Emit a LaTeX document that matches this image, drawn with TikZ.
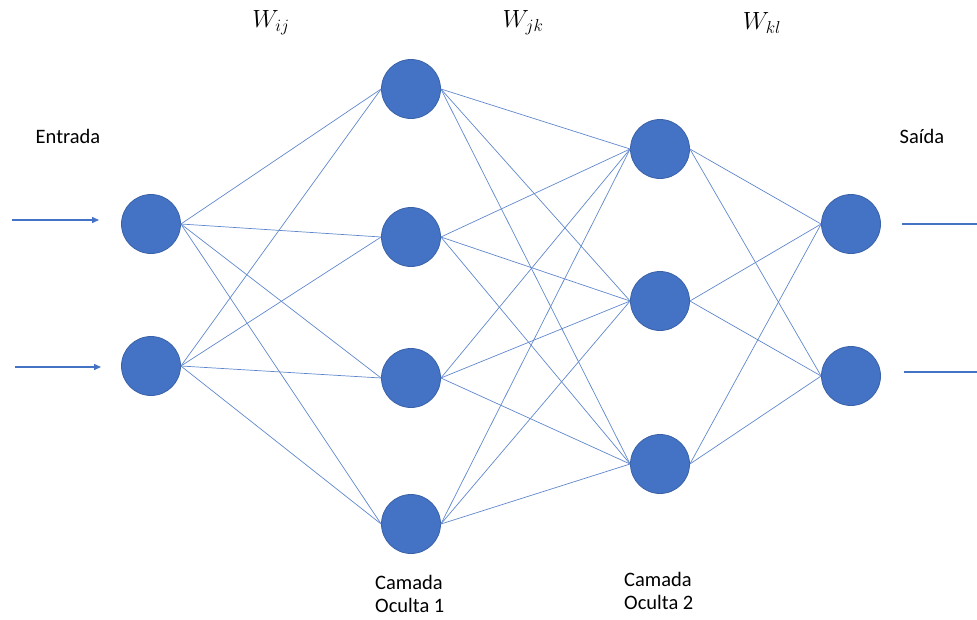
\documentclass[tikz,border=0pt]{standalone}
\usepackage{fontspec}
\setmainfont{Carlito}
\usetikzlibrary{arrows.meta}
\definecolor{nodeblue}{HTML}{4472C4}
\definecolor{nodeborder}{HTML}{3A62A8}
\tikzset{
  neuron/.style={circle, fill=nodeblue, draw=nodeborder, line width=0.8pt, minimum size=59pt, inner sep=0pt},
  link/.style={draw=nodeblue!85, line width=0.7pt},
  inarrow/.style={draw=nodeblue, line width=1.4pt, -{Triangle[length=7pt,width=6pt]}},
  outline/.style={draw=nodeblue, line width=1.4pt},
  lbl/.style={font=\fontsize{20.5}{24}\selectfont, inner sep=0pt},
  wlbl/.style={font=\fontsize{23}{26}\selectfont, inner sep=0pt},
  layerlbl/.style={font=\fontsize{20.5}{23.5}\selectfont, inner sep=0pt, align=left, anchor=north west}
}
\begin{document}
\begin{tikzpicture}[x=1pt,y=-1pt]
\useasboundingbox (0,0) rectangle (977,619);
% neurons
\node[neuron] (i1) at (151,224) {};
\node[neuron] (i2) at (151,366) {};
\node[neuron] (a1) at (411,89) {};
\node[neuron] (a2) at (411,237) {};
\node[neuron] (a3) at (411,378) {};
\node[neuron] (a4) at (411,524) {};
\node[neuron] (b1) at (660,149) {};
\node[neuron] (b2) at (660,301) {};
\node[neuron] (b3) at (660,464) {};
\node[neuron] (o1) at (851,224) {};
\node[neuron] (o2) at (851,376) {};
% links
\foreach \s in {i1,i2}{\foreach \t in {a1,a2,a3,a4}{\draw[link] (\s.east) -- (\t.west);}}
\foreach \s in {a1,a2,a3,a4}{\foreach \t in {b1,b2,b3}{\draw[link] (\s.east) -- (\t.west);}}
\foreach \s in {b1,b2,b3}{\foreach \t in {o1,o2}{\draw[link] (\s.east) -- (\t.west);}}
% input arrows
\coordinate (in1) at (12,220);
\coordinate (in1e) at (99,220);
\coordinate (in2) at (15,367);
\coordinate (in2e) at (101,367);
\draw[inarrow] (in1) -- (in1e);
\draw[inarrow] (in2) -- (in2e);
% output lines
\coordinate (out1) at (902,224);
\coordinate (out1e) at (977,224);
\coordinate (out2) at (904,372);
\coordinate (out2e) at (977,372);
\draw[outline] (out1) -- (out1e);
\draw[outline] (out2) -- (out2e);
% labels
\node[lbl] (entrada) at (68,136) {Entrada};
\node[lbl] (saida) at (922,136) {Saída};
\node[wlbl] (wij) at (271,23) {$W_{ij}$};
\node[wlbl] (wjk) at (523,23) {$W_{jk}$};
\node[wlbl] (wkl) at (762,23) {$W_{kl}$};
\node[layerlbl] (c1) at (375,575) {Camada\\Oculta 1};
\node[layerlbl] (c2) at (624,572) {Camada\\Oculta 2};
\end{tikzpicture}
\end{document}
